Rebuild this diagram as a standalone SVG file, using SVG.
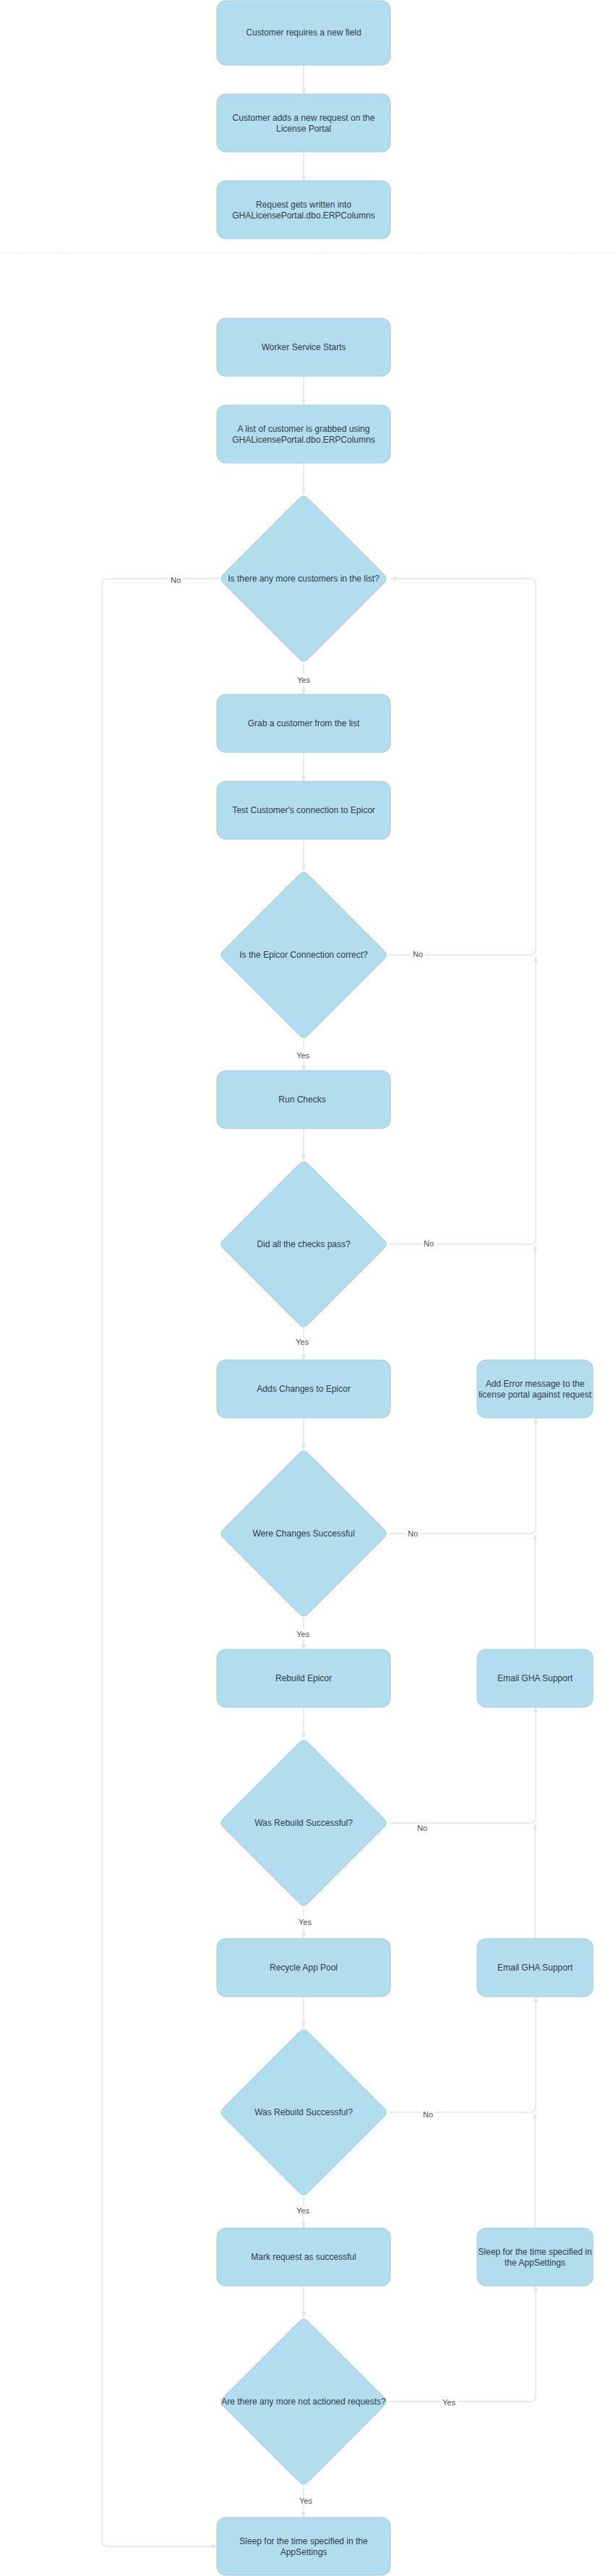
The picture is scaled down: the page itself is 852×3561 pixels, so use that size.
<svg xmlns="http://www.w3.org/2000/svg" width="852" height="3561" viewBox="0 0 852 3561">
<style>
.box{fill:#b2ddef;stroke:#a6cadb;stroke-width:1}
.t{font-family:"Liberation Sans",Arial,sans-serif;font-size:12px;fill:#343a44;text-anchor:middle}
.c{fill:none;stroke:#e5e5e5;stroke-width:1.5}
.a{marker-end:url(#arr)}
.lb{fill:#ffffff}
.l{font-family:"Liberation Sans",Arial,sans-serif;font-size:11px;fill:#4a4f57;text-anchor:middle}
.sep{stroke:#e2e2e2;stroke-width:1;stroke-dasharray:3 3}
</style>
<defs>
<marker id="arr" viewBox="0 0 10 10" refX="10" refY="5" markerWidth="8" markerHeight="8" markerUnits="userSpaceOnUse" orient="auto">
<path d="M0,1 L10,5 L0,9 L2.5,5 z" fill="#e2e2e2"/>
</marker>
<path id="dia" d="M-5.7,-111.3 Q0,-117 5.7,-111.3 L111.3,-5.7 Q117,0 111.3,5.7 L5.7,111.3 Q0,117 -5.7,111.3 L-111.3,5.7 Q-117,0 -111.3,-5.7 Z"/>
</defs>
<rect x="0" y="0" width="852" height="3561" fill="#ffffff"/>
<line class="sep" x1="0" y1="350" x2="852" y2="350"/>

<g id="connectors">
<path class="c a" d="M420,90 V130"/>
<path class="c a" d="M420,210 V250"/>
<path class="c a" d="M420,520 V560"/>
<path class="c a" d="M420,640 V683"/>
<path class="c a" d="M420,917 V960"/>
<path class="c a" d="M420,1040 V1080"/>
<path class="c a" d="M420,1160 V1203"/>
<path class="c a" d="M420,1437 V1480"/>
<path class="c a" d="M420,1560 V1603"/>
<path class="c a" d="M420,1837 V1880"/>
<path class="c a" d="M420,1960 V2003"/>
<path class="c a" d="M420,2237 V2280"/>
<path class="c a" d="M420,2360 V2403"/>
<path class="c a" d="M420,2637 V2680"/>
<path class="c a" d="M420,2760 V2803"/>
<path class="c a" d="M420,3037 V3080"/>
<path class="c a" d="M420,3160 V3203"/>
<path class="c a" d="M420,3437 V3480"/>
<path class="c a" d="M303,800 H149 Q141,800 141,808 V3512 Q141,3520 149,3520 H300"/>
<path class="c a" d="M537,1320 H733 Q741,1320 741,1312 V808 Q741,800 733,800 H541"/>
<path class="c a" d="M537,1720 H733 Q741,1720 741,1712 V1322"/>
<path class="c a" d="M740,1880 V1722"/>
<path class="c a" d="M537,2120 H733 Q741,2120 741,2112 V1960"/>
<path class="c a" d="M740,2280 V2122"/>
<path class="c a" d="M537,2520 H733 Q741,2520 741,2512 V2360"/>
<path class="c a" d="M740,2680 V2522"/>
<path class="c a" d="M537,2920 H733 Q741,2920 741,2912 V2760"/>
<path class="c a" d="M740,3080 V2922"/>
<path class="c a" d="M537,3320 H733 Q741,3320 741,3312 V3160"/>
<g id="labels">
<rect class="lb" x="233" y="794" width="20" height="14"/><text class="l" x="243" y="806">No</text>
<rect class="lb" x="408" y="933" width="24" height="14"/><text class="l" x="420" y="944">Yes</text>
<rect class="lb" x="568" y="1312" width="20" height="14"/><text class="l" x="578" y="1323">No</text>
<rect class="lb" x="407" y="1452" width="24" height="14"/><text class="l" x="419" y="1463">Yes</text>
<rect class="lb" x="583" y="1712" width="20" height="14"/><text class="l" x="593" y="1723">No</text>
<rect class="lb" x="406" y="1848" width="24" height="14"/><text class="l" x="418" y="1859">Yes</text>
<rect class="lb" x="561" y="2113" width="20" height="14"/><text class="l" x="571" y="2124">No</text>
<rect class="lb" x="407" y="2252" width="24" height="14"/><text class="l" x="419" y="2263">Yes</text>
<text class="l" x="584" y="2531">No</text>
<rect class="lb" x="410" y="2650" width="24" height="14"/><text class="l" x="422" y="2661">Yes</text>
<rect class="lb" x="582" y="2916" width="20" height="14"/><text class="l" x="592" y="2927">No</text>
<rect class="lb" x="407" y="3049" width="24" height="14"/><text class="l" x="419" y="3060">Yes</text>
<rect class="lb" x="609" y="3314" width="24" height="14"/><text class="l" x="621" y="3325">Yes</text>
<rect class="lb" x="411" y="3450" width="24" height="14"/><text class="l" x="423" y="3461">Yes</text>
</g>
</g>

<g id="n1"><rect class="box" x="300" y="1" width="240" height="89" rx="12"/><text class="t" x="420" y="49">Customer requires a new field</text></g>
<g id="n2"><rect class="box" x="300" y="130" width="240" height="80" rx="12"/><text class="t" x="420" y="167">Customer adds a new request on the</text><text class="t" x="420" y="182">License Portal</text></g>
<g id="n3"><rect class="box" x="300" y="250" width="240" height="80" rx="12"/><text class="t" x="420" y="287">Request gets written into</text><text class="t" x="420" y="302">GHALicensePortal.dbo.ERPColumns</text></g>
<g id="n4"><rect class="box" x="300" y="440" width="240" height="80" rx="12"/><text class="t" x="420" y="484">Worker Service Starts</text></g>
<g id="n5"><rect class="box" x="300" y="560" width="240" height="80" rx="12"/><text class="t" x="420" y="597">A list of customer is grabbed using</text><text class="t" x="420" y="612">GHALicensePortal.dbo.ERPColumns</text></g>
<g id="d1"><use href="#dia" class="box" x="420" y="800"/><text class="t" x="420" y="804">Is there any more customers in the list?</text></g>
<g id="n6"><rect class="box" x="300" y="960" width="240" height="80" rx="12"/><text class="t" x="420" y="1004">Grab a customer from the list</text></g>
<g id="n7"><rect class="box" x="300" y="1080" width="240" height="80" rx="12"/><text class="t" x="420" y="1124">Test Customer's connection to Epicor</text></g>
<g id="d2"><use href="#dia" class="box" x="420" y="1320"/><text class="t" x="420" y="1324">Is the Epicor Connection correct?</text></g>
<g id="n8"><rect class="box" x="300" y="1480" width="240" height="80" rx="12"/><text class="t" x="418" y="1524">Run Checks</text></g>
<g id="d3"><use href="#dia" class="box" x="420" y="1720"/><text class="t" x="420" y="1724">Did all the checks pass?</text></g>
<g id="n9"><rect class="box" x="300" y="1880" width="240" height="80" rx="12"/><text class="t" x="420" y="1924">Adds Changes to Epicor</text></g>
<g id="r1"><rect class="box" x="660" y="1880" width="160" height="80" rx="12"/><text class="t" x="740" y="1917">Add Error message to the</text><text class="t" x="740" y="1932">license portal against request</text></g>
<g id="d4"><use href="#dia" class="box" x="420" y="2120"/><text class="t" x="420" y="2124">Were Changes Successful</text></g>
<g id="n10"><rect class="box" x="300" y="2280" width="240" height="80" rx="12"/><text class="t" x="420" y="2324">Rebuild Epicor</text></g>
<g id="r2"><rect class="box" x="660" y="2280" width="160" height="80" rx="12"/><text class="t" x="740" y="2324">Email GHA Support</text></g>
<g id="d5"><use href="#dia" class="box" x="420" y="2520"/><text class="t" x="420" y="2524">Was Rebuild Successful?</text></g>
<g id="n11"><rect class="box" x="300" y="2680" width="240" height="80" rx="12"/><text class="t" x="420" y="2724">Recycle App Pool</text></g>
<g id="r3"><rect class="box" x="660" y="2680" width="160" height="80" rx="12"/><text class="t" x="740" y="2724">Email GHA Support</text></g>
<g id="d6"><use href="#dia" class="box" x="420" y="2920"/><text class="t" x="420" y="2924">Was Rebuild Successful?</text></g>
<g id="n12"><rect class="box" x="300" y="3080" width="240" height="80" rx="12"/><text class="t" x="420" y="3124">Mark request as successful</text></g>
<g id="r4"><rect class="box" x="660" y="3080" width="160" height="80" rx="12"/><text class="t" x="740" y="3117">Sleep for the time specified in</text><text class="t" x="740" y="3132">the AppSettings</text></g>
<g id="d7"><use href="#dia" class="box" x="420" y="3320"/><text class="t" x="420" y="3324">Are there any more not actioned requests?</text></g>
<g id="n13"><rect class="box" x="300" y="3480" width="240" height="80" rx="12"/><text class="t" x="420" y="3517">Sleep for the time specified in the</text><text class="t" x="420" y="3532">AppSettings</text></g>
</svg>
